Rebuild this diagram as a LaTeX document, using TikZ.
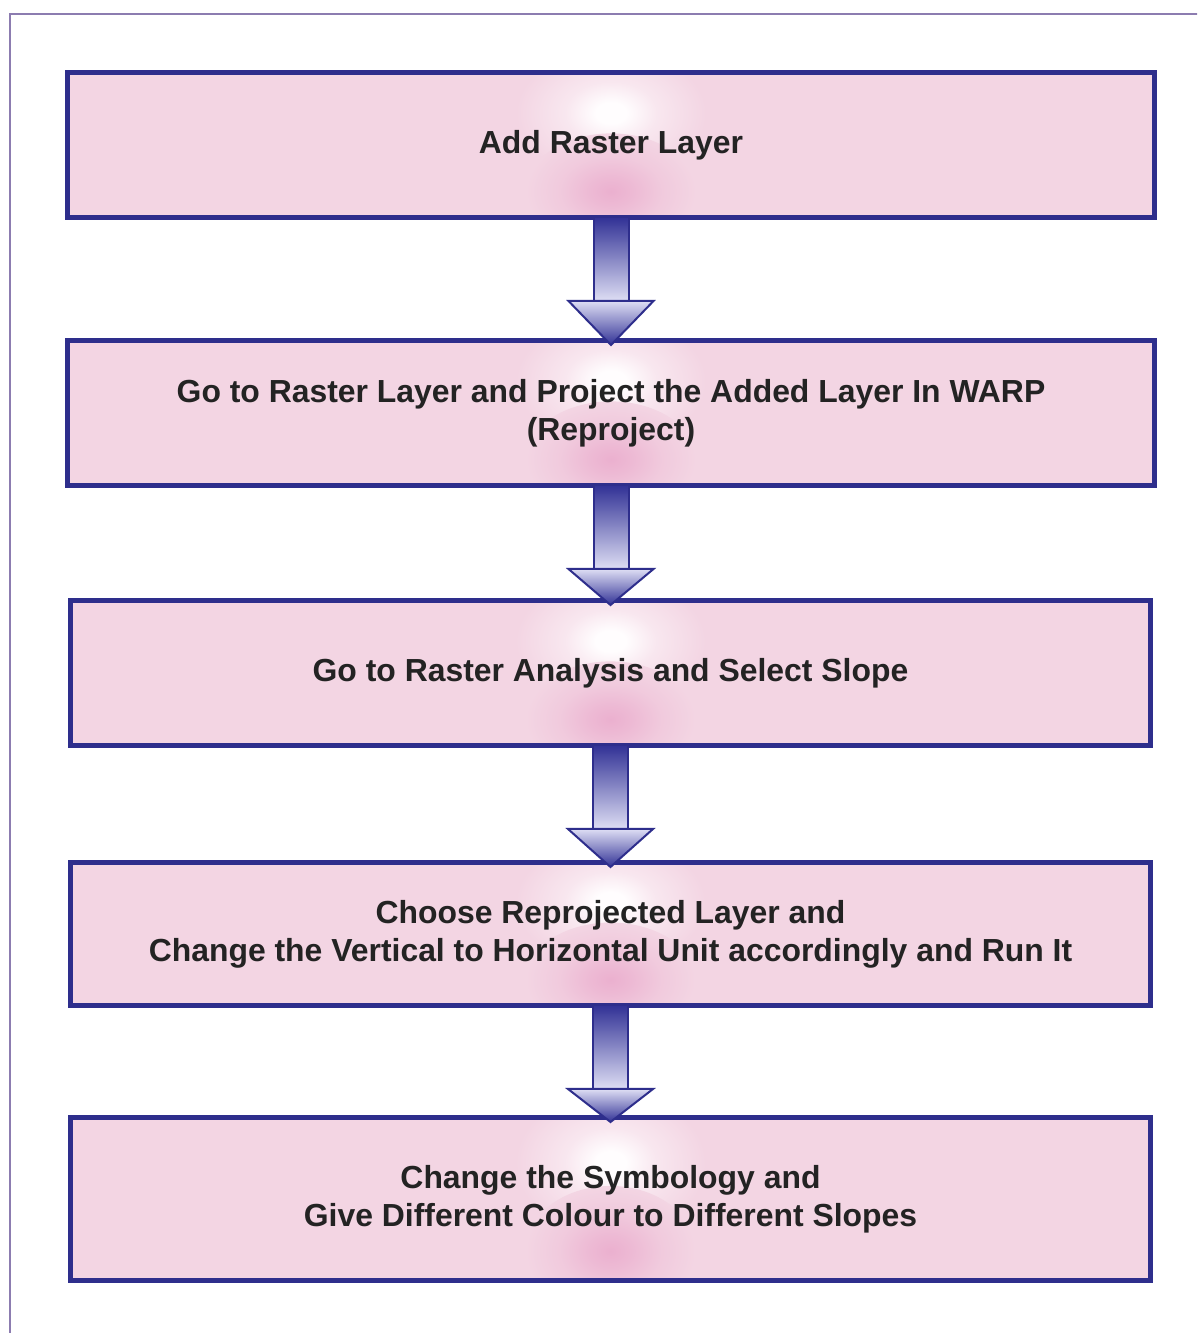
\documentclass[tikz,border=0pt]{standalone}
\usepackage{fontspec}
\setmainfont{Liberation Sans}
\usetikzlibrary{calc}

\definecolor{boxpink}{RGB}{243,213,227}
\definecolor{deeppink}{RGB}{235,176,207}
\definecolor{glowwhite}{RGB}{255,253,254}
\definecolor{boxblue}{RGB}{46,46,140}
\definecolor{framepurple}{RGB}{140,124,176}
\definecolor{textgray}{RGB}{35,35,35}
\definecolor{arrowdark}{RGB}{50,50,150}
\definecolor{arrowlight}{RGB}{222,222,244}

% soft highlights inside each step box
\pgfdeclareradialshading{whiteglow}{\pgfpoint{0bp}{0bp}}{color(0bp)=(glowwhite); color(4bp)=(glowwhite); color(12bp)=(glowwhite!45!boxpink); color(25bp)=(boxpink); color(50bp)=(boxpink)}
\pgfdeclareradialshading{pinkglow}{\pgfpoint{0bp}{0bp}}{color(0bp)=(deeppink); color(6bp)=(deeppink!75!boxpink); color(15bp)=(deeppink!30!boxpink); color(25bp)=(boxpink); color(50bp)=(boxpink)}

\tikzset{
  stepbox/.style={draw=boxblue, line width=5pt, rectangle, align=center,
    text=textgray, font=\bfseries\fontsize{31.9}{38}\selectfont, inner sep=0pt,
    path picture={
      \fill[boxpink] (path picture bounding box.south west) rectangle (path picture bounding box.north east);
      \path let \p1=(path picture bounding box.north), \p2=(path picture bounding box.south) in
        [shade, shading=whiteglow] (\x1, {\y1-0.28*(\y1-\y2)}) ellipse ({95pt} and {0.45*(\y1-\y2)});
      \path let \p1=(path picture bounding box.north), \p2=(path picture bounding box.south) in
        [shade, shading=pinkglow] (\x1, {\y1-0.82*(\y1-\y2)}) ellipse ({85pt} and {0.40*(\y1-\y2)});
    }},
  shaftfill/.style={top color=arrowdark, bottom color=arrowlight, draw=boxblue, line width=2pt},
  headfill/.style={top color=arrowlight, bottom color=arrowdark, draw=boxblue, line width=2pt, line join=miter},
  frameline/.style={draw=framepurple, line width=2.5pt}
}

% block arrow from the bottom of one step to the top of the next
\newcommand\flowarrow[2]{%
  \path[shaftfill] ($(#1.south)+(-17.5,2.5)$) rectangle ($(#1.south)+(17.5,-81)$);
  \path[headfill] ($(#1.south)+(-42.5,-81)$) -- ($(#1.south)+(42.5,-81)$) -- ($(#2.north)+(0,-7)$) -- cycle;
}

\begin{document}
\begin{tikzpicture}[x=1pt,y=1pt]
  \useasboundingbox (0,0) rectangle (1197,1333);
  \clip (0,0) rectangle (1197,1333);
  \fill[white] (0,0) rectangle (1197,1333);
  \draw[frameline] (10,-20) -- (10,1319) -- (1220,1319);

  \node[stepbox, minimum width=1087, minimum height=145] (s1) at (611,1188) {Add Raster Layer};
  \node[stepbox, minimum width=1087, minimum height=145] (s2) at (611,920)
    {Go to Raster Layer and Project the Added Layer In WARP\\(Reproject)};
  \node[stepbox, minimum width=1080, minimum height=145] (s3) at (610.5,660)
    {Go to Raster Analysis and Select Slope};
  \node[stepbox, minimum width=1080, minimum height=143] (s4) at (610.5,399)
    {Choose Reprojected Layer and\\Change the Vertical to Horizontal Unit accordingly and Run It};
  \node[stepbox, minimum width=1080, minimum height=163] (s5) at (610.5,134)
    {Change the Symbology and\\Give Different Colour to Different Slopes};

  \flowarrow{s1}{s2}
  \flowarrow{s2}{s3}
  \flowarrow{s3}{s4}
  \flowarrow{s4}{s5}
\end{tikzpicture}
\end{document}
